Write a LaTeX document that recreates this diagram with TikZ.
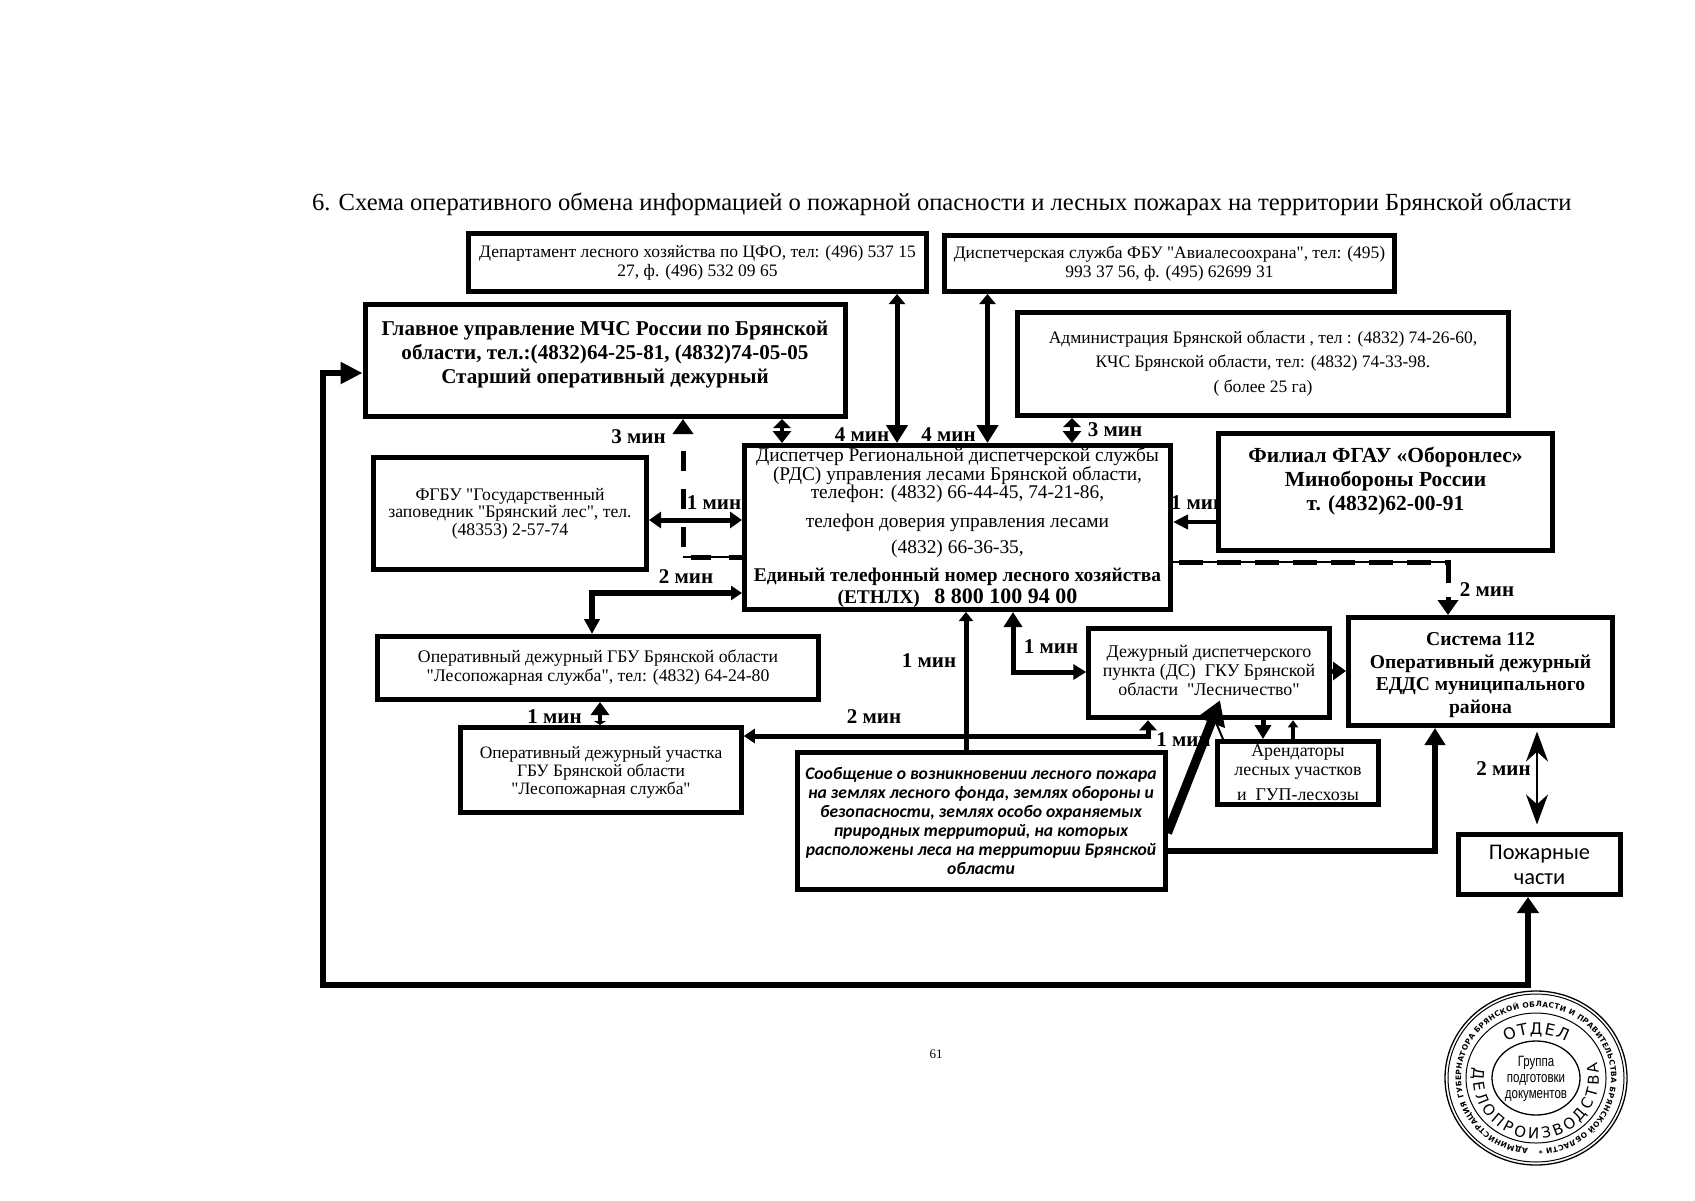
\documentclass[tikz,border=0pt]{standalone}
\usepackage{fontspec}
\setmainfont[Ligatures=TeXOff]{Liberation Serif}
\setsansfont{Liberation Sans}
\newfontfamily\carlitofont{Carlito}
\newfontfamily\stampfont{DejaVu Sans}
\usetikzlibrary{arrows.meta}
\usetikzlibrary{decorations.text}
\tikzset{
	fs/.style 2 args={font=\fontsize{#1}{#2}\selectfont},
	box/.style={draw,line width=5pt,fill=white,inner sep=0pt,align=center},
	minlabel/.style={font=\fontsize{21}{21}\selectfont\bfseries},
	conn/.style={line width=5pt,-{Triangle[length=15pt,width=17pt]}},
	biconn/.style={line width=5pt,{Triangle[length=13pt,width=17pt]}-{Triangle[length=15pt,width=19pt]}},
	shortconn/.style={line width=4pt,{Triangle[length=9pt,width=17pt]}-{Triangle[length=12pt,width=18pt]}},
	dashconn/.style={line width=5pt,-{Triangle[length=15pt,width=20pt]}},
	ringtext/.style={decorate,decoration={text along path,text align=fit to path,text={#1}}}
}
\begin{document}
\begin{tikzpicture}[x=1pt,y=-1pt]
	\useasboundingbox (0,0) rectangle (1695,1200);
	\node[anchor=west,fs={24.6}{25}] (title) at (308.5,204)
		{6. Схема оперативного обмена информацией о пожарной опасности и лесных пожарах на территории Брянской области};
	\foreach \name/\x/\y/\n in {ta/638.5/437/3,tb/862/435/4,tc/948.5/435/4,td/714/503/1,te/686/577/2,tf/1115/430/3,tg/1198/503/1,th/1487/590/2,ti/929/661/1,tj/1051/647/1,tk/874/717/2,tl/554.5/717/1,tm/1183.5/740/1,tn/1503.5/769/2}{
		\node[minlabel] (\name) at (\x,\y) {\n\ мин};
	}
	\node[box,fs={17.5}{19},minimum width=458pt,minimum height=58pt] (dept) at (697.5,262.5)
		{Департамент лесного хозяйства по ЦФО, тел: (496) 537 15\\27, ф. (496) 532 09 65};
	\node[box,fs={17.5}{19},minimum width=450pt,minimum height=56pt] (avia) at (1169.5,263.5)
		{Диспетчерская служба ФБУ "Авиалесоохрана", тел: (495)\\993 37 56, ф. (495) 62699 31};
	\node[box,font=\fontsize{21.1}{24}\selectfont\bfseries,minimum width=480pt,minimum height=112pt] (mchs) at (605,360.5)
		{Главное управление МЧС России по Брянской\\области, тел.:(4832)64-25-81, (4832)74-05-05\\Старший оперативный дежурный\\[-8pt]\mbox{}};
	\node[box,fs={17.5}{18},minimum width=491pt,minimum height=103pt] (admin) at (1263,364)
		{Администрация Брянской области , тел : (4832) 74-26-60,\\[6pt]КЧС Брянской области, тел: (4832) 74-33-98.\\[7pt]( более 25 га)};
	\node[box,fs={17.7}{17.5},minimum width=273pt,minimum height=112pt] (fgbu) at (510,513.5)
		{ФГБУ "Государственный\\заповедник "Брянский лес", тел.\\(48353) 2-57-74};
	\node[box,fs={19.4}{19},minimum width=426pt,minimum height=164pt] (rds) at (957.5,527.5)
		{Диспетчер Региональной диспетчерской службы\\(РДС) управления лесами Брянской области,\\[-1pt]телефон: (4832) 66-44-45, 74-21-86,\\[10pt]телефон доверия управления лесами\\[7pt](4832) 66-36-35,\\[9pt]{\bfseries Единый телефонный номер лесного хозяйства}\\[3pt]{\bfseries (ЕТНЛХ)\ \ \ \fontsize{22}{19}\selectfont 8 800 100 94 00}};
	\node[box,font=\fontsize{21.5}{24}\selectfont\bfseries,minimum width=334pt,minimum height=117pt] (filial) at (1385.5,492)
		{Филиал ФГАУ «Оборонлес»\\Минобороны России\\т. (4832)62-00-91\\[2.5pt]\mbox{}};
	\node[box,font=\fontsize{19.6}{22.5}\selectfont\bfseries,minimum width=264pt,minimum height=108pt] (sys) at (1480.5,671.5)
		{\rule{0pt}{4pt}\\[-6.5pt]Система 112\\Оперативный дежурный\\ЕДДС муниципального\\района};
	\node[box,fs={17.7}{19},minimum width=441pt,minimum height=63pt] (lss) at (598,668)
		{Оперативный дежурный ГБУ Брянской области\\"Лесопожарная служба", тел: (4832) 64-24-80};
	\node[box,fs={17.4}{18},minimum width=280.5pt,minimum height=85pt] (uch) at (601,770)
		{\rule{0pt}{4pt}\\[-6pt]Оперативный дежурный участка\\ГБУ Брянской области\\"Лесопожарная служба"};
	\node[box,font=\fontsize{17.6}{19}\selectfont\carlitofont\bfseries\itshape,minimum width=368pt,minimum height=137pt] (msg) at (981,821)
		{Сообщение о возникновении  лесного пожара\\на землях лесного фонда, землях обороны и\\безопасности,  землях особо охраняемых\\природных территорий, на которых\\расположены леса на территории Брянской\\области};
	\node[box,fs={17.9}{18.8},minimum width=240.5pt,minimum height=89.5pt] (ds) at (1209,673)
		{Дежурный диспетчерского\\пункта (ДС)\ \ ГКУ Брянской\\области\ \ "Лесничество"\\[-14pt]\mbox{}};
	\node[box,fs={17.9}{19},minimum width=161pt,minimum height=63pt] (ar) at (1298,773)
		{Арендаторы\\лесных участков\\[6pt]и\ \ ГУП-лесхозы};
	\node[box,font=\fontsize{22.4}{25}\selectfont\carlitofont,minimum width=162pt,minimum height=60pt] (pozh) at (1539.5,864.5)
		{Пожарные\\части};
	\node[fs={13}{13}] (page) at (936,1054) {61};
	\draw[biconn,line width=6pt,{Triangle[length=16pt,width=21pt]}-{Triangle[length=22pt,width=21pt]}] (1528,0 |- pozh.south) |- (323,985) |- (0,373 -| mchs.west);
	\draw[biconn,{Triangle[length=10pt,width=16pt]}-{Triangle[length=18pt,width=21pt]}] (897,0 |- dept.south) -- (897,0 |- rds.north);
	\draw[biconn,{Triangle[length=10pt,width=16pt]}-{Triangle[length=18pt,width=21pt]}] (987.5,0 |- avia.south) -- (987.5,0 |- rds.north);
	\draw[shortconn] (782,0 |- mchs.south) -- (782,0 |- rds.north);
	\draw[shortconn] (1072,0 |- admin.south) -- (1072,0 |- rds.north);
	\draw[shortconn,{Triangle[length=4pt,width=12pt]}-{Triangle[length=13pt,width=18pt]}] (600,0 |- uch.north) -- (600,0 |- lss.south);
	\draw[line width=1.5pt] (rds.west |- 0,557) -- (683,557);
	\draw[dashconn,dash pattern=on 20pt off 18pt,dash phase=7pt] (rds.west |- 0,557) -- (683,557) -- (683,0 |- mchs.south);
	\draw[line width=1.5pt] (rds.east |- 0,562) -- (1448,562);
	\draw[dashconn,dash pattern=on 24pt off 14pt,dash phase=32pt] (rds.east |- 0,562) -| (1448,0 |- sys.north);
	\draw[biconn,{Triangle[length=12pt,width=16pt]}-{Triangle[length=12pt,width=16pt]}] (fgbu.east |- 0,520) -- (rds.west |- 0,520);
	\draw[biconn,line width=6pt,{Triangle[length=11pt,width=14pt]}-{Triangle[length=15pt,width=15pt]}] (rds.west |- 0,593) -| (592,0 |- lss.north);
	\draw[conn,line width=4pt,-{Triangle[length=15pt,width=14pt]}] (filial.west |- 0,522) -- (rds.east |- 0,522);
	\draw[conn,-{Triangle[length=9pt,width=14pt]}] (966,0 |- msg.north) -- (966,0 |- rds.south);
	\draw[biconn,{Triangle[length=15pt,width=18pt]}-{Triangle[length=13pt,width=15pt]}] (1013,0 |- rds.south) |- (ds.west |- 0,672);
	\draw[conn,-{Triangle[length=13pt,width=18pt]}] (ds.east |- 0,671) -- (sys.west |- 0,671);
	\draw[line width=2.5pt,shorten <=3.5pt,shorten >=7.5pt,{Stealth[length=30pt,width=22pt]}-{Stealth[length=30pt,width=22pt]}] (1537,0 |- sys.south) -- (1537,0 |- pozh.north);
	\draw[conn,line width=6.5pt,-{Triangle[length=17pt,width=20pt]}] (msg.east |- 0,851) -| (1435,0 |- sys.south);
	\draw[biconn,{Triangle[length=10pt,width=17pt]}-{Triangle[length=11pt,width=14pt]}] (1148,0 |- ds.south) |- (uch.east |- 0,736);
	\draw[conn,-{Triangle[length=14pt,width=16pt]}] (1263,0 |- ds.south) -- (1263,0 |- ar.north);
	\draw[conn,line width=4pt,-{Triangle[length=7pt,width=10pt]}] (1293,0 |- ar.north) -- (1293,0 |- ds.south);
	\draw[line width=2pt] (1223,0 |- ar.north) -- (1215,0 |- ds.south);
	\draw[line width=9pt,-{Triangle[length=24pt,width=28pt]}] ([yshift=-12pt]msg.east) -- ([shift={(11pt,20pt)}]ds.south);
	\coordinate (stamp) at (1536,1078);
	\draw[line width=1.3pt] (stamp) ellipse [x radius=91pt,y radius=87pt];
	\draw[line width=1pt] (stamp) ellipse [x radius=88pt,y radius=84pt];
	\draw[line width=1pt] (stamp) ellipse [x radius=70pt,y radius=65pt];
	\draw[line width=1.3pt] (stamp) ellipse [x radius=44pt,y radius=37pt];
	\path[ringtext={|\stampfont\bfseries\fontsize{7.5}{9}\selectfont|АДМИНИСТРАЦИЯ ГУБЕРНАТОРА БРЯНСКОЙ ОБЛАСТИ И ПРАВИТЕЛЬСТВА БРЯНСКОЙ ОБЛАСТИ *}]
		([shift={(-96:75pt and 71pt)}]stamp) arc [start angle=-96,end angle=-448,x radius=75pt,y radius=71pt];
	\path[ringtext={|\stampfont\fontsize{16}{16}\selectfont|ОТДЕЛ}]
		([shift={(125:52pt and 44pt)}]stamp) arc [start angle=125,end angle=55,x radius=52pt,y radius=44pt];
	\path[ringtext={|\stampfont\fontsize{15}{15}\selectfont|ДЕЛОПРОИЗВОДСТВА}]
		([shift={(170:63pt and 61pt)}]stamp) arc [start angle=170,end angle=375,x radius=63pt,y radius=61pt];
	\node[yscale=1.3,font=\sffamily\fontsize{11.5}{12.5}\selectfont,align=center] (group) at (1536,1079)
		{Группа\\подготовки\\документов};
\end{tikzpicture}
\end{document}
